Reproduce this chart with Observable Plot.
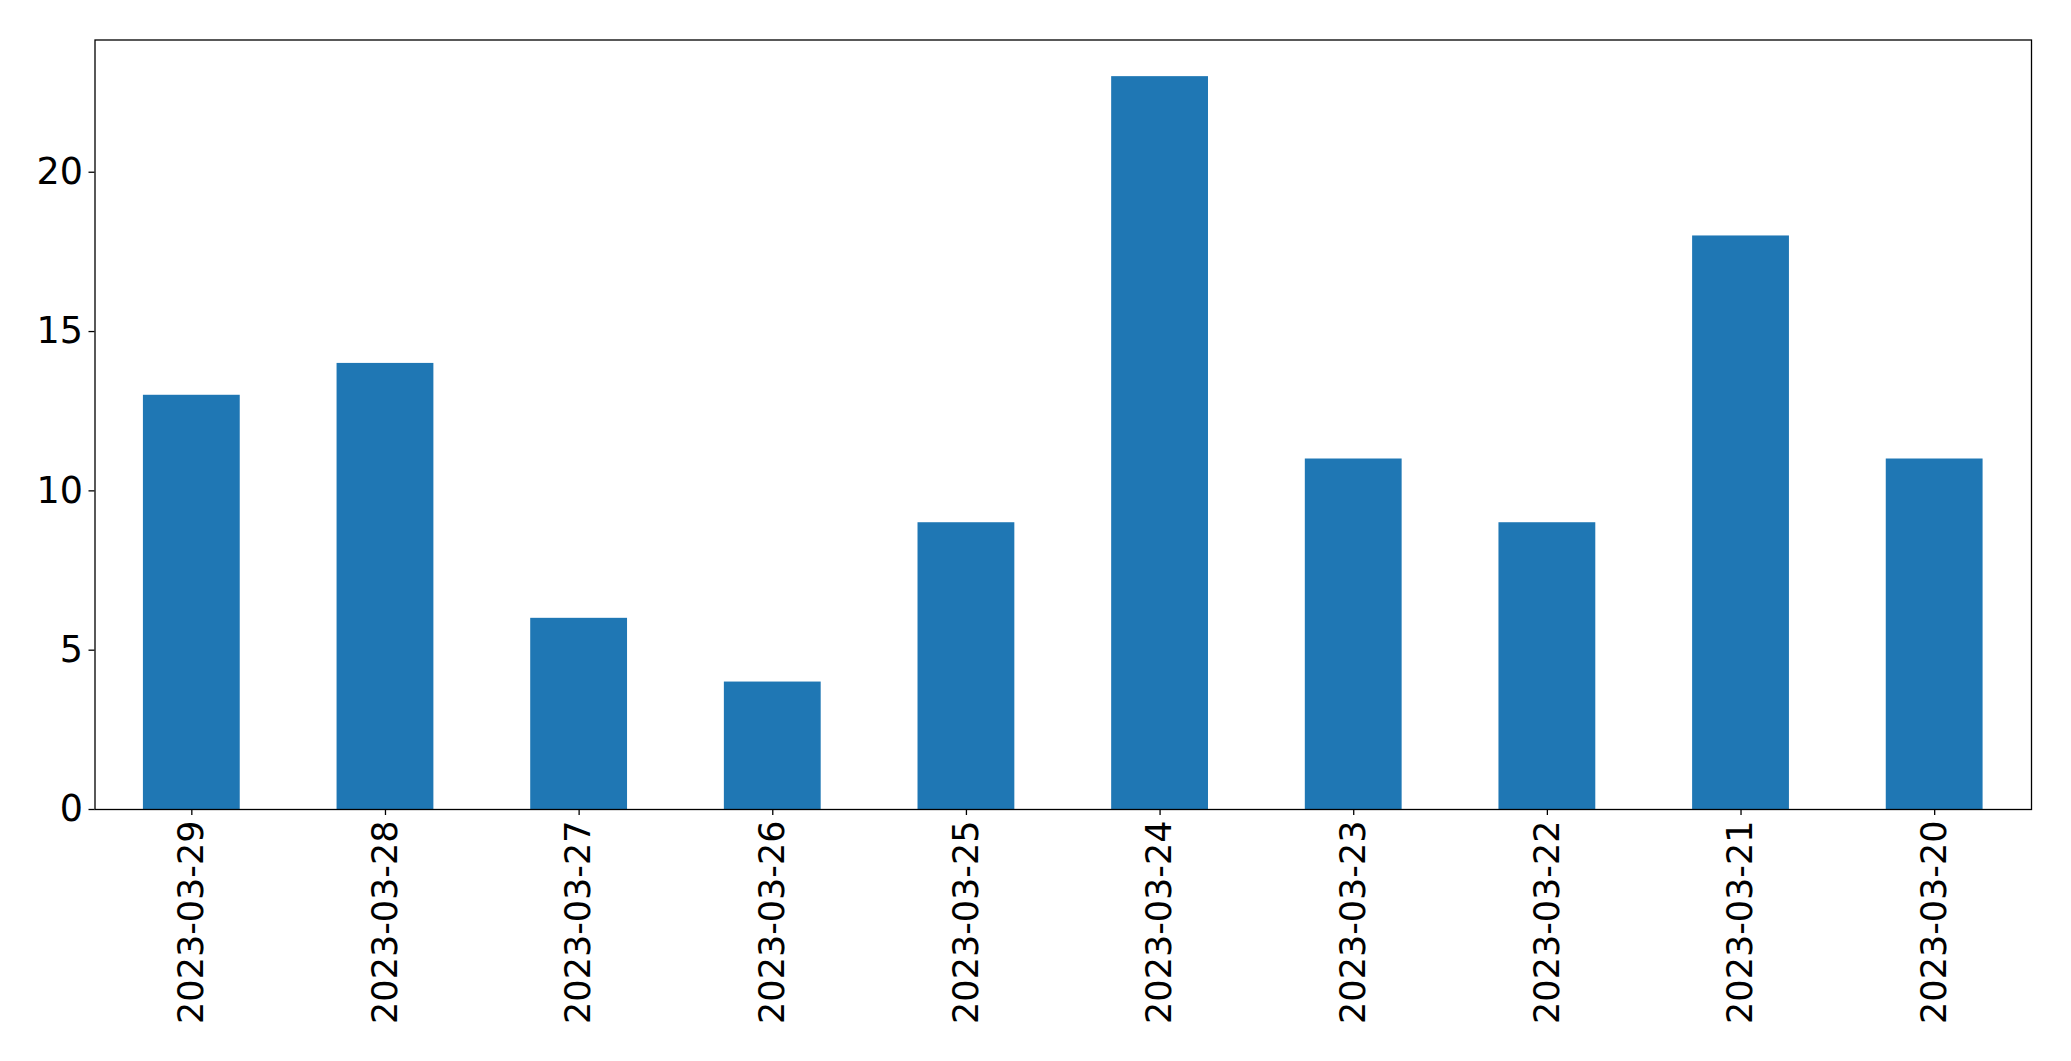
<!DOCTYPE html>
<html>
<head>
<meta charset="utf-8">
<script src="https://cdn.jsdelivr.net/npm/d3@7"></script>
<script src="https://cdn.jsdelivr.net/npm/@observablehq/plot@0.6"></script>
<style>
  html, body { margin: 0; padding: 0; background: #fff; }
  svg { display: block; }
</style>
</head>
<body>
<div id="chart"></div>
<script>
const dates = ["2023-03-29","2023-03-28","2023-03-27","2023-03-26","2023-03-25","2023-03-24","2023-03-23","2023-03-22","2023-03-21","2023-03-20"];
const counts = [13, 14, 6, 4, 9, 23, 11, 9, 18, 11];
const yTicks = [0, 5, 10, 15, 20];

const data = dates.map((d, i) => ({date: d, count: counts[i]}));

const chart = Plot.plot({
  width: 2071,
  height: 1061,
  marginLeft: 94.5,
  marginRight: 40,
  marginTop: 39.5,
  marginBottom: 252,
  style: {fontFamily: "'DejaVu Sans', sans-serif", fontSize: "35px", color: "#000", background: "#fff"},
  x: {domain: dates, paddingInner: 0.5, paddingOuter: 0.25, align: 0.5, round: false},
  y: {domain: [0, 24.15]},
  marks: [
    Plot.barY(data, {x: "date", y: "count", fill: "#1f77b4"}),
    Plot.frame({stroke: "#000", strokeWidth: 1.3}),
    Plot.axisY({ticks: yTicks, tickSize: 6, tickPadding: 6, fontSize: 36.5, label: null, tickFormat: d => String(d), stroke: "#000", strokeWidth: 1.3}),
    Plot.axisX({tickSize: 6, tickPadding: 5, fontSize: 35, label: null, tickRotate: -90, stroke: "#000", strokeWidth: 1.3})
  ]
});
document.getElementById("chart").appendChild(chart);
</script>
</body>
</html>
